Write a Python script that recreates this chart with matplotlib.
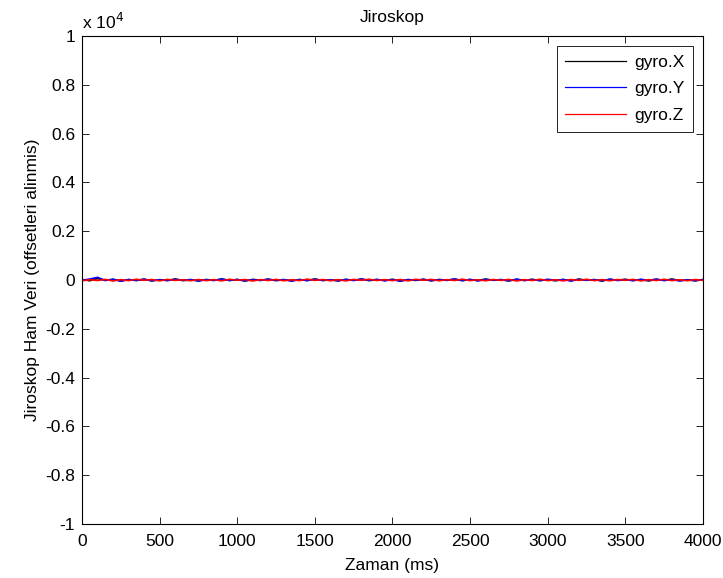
import matplotlib.pyplot as plt
import matplotlib.ticker as ticker
import numpy as np
from matplotlib import rcParams

rcParams.update({
    "font.family": ["Liberation Sans", "DejaVu Sans"],
    "font.size": 12.5,
})

# zaman ekseni (ms), her 50 ms'de bir okunan degerler
zaman = np.arange(0, 4001, 50)

gyro_x = [20, -30, 60, -10, 25, -40, 15, -20, 30, -35, 10, -15, 40, -25, 5,
          -30, 20, -10, 35, -20, 15, -40, 25, -5, 30, -25, 10, -35, 20, -15,
          40, -20, 5, -30, 25, -10, 35, -25, 15, -20, 30, -40, 10, -15, 25,
          -30, 20, -5, 35, -25, 15, -20, 40, -10, 5, -35, 25, -15, 30, -20,
          10, -30, 20, -25, 35, -10, 15, -40, 25, -5, 30, -20, 10, -35, 20,
          -15, 40, -25, 5, -30, 15]
gyro_y = [-10, 40, 110, -20, 30, -45, 20, -15, 35, -30, 15, -25, 30, -10, 20,
          -40, 10, -20, 45, -15, 25, -30, 10, -20, 35, -10, 20, -40, 15, -25,
          30, -15, 10, -35, 20, -20, 40, -10, 25, -30, 15, -45, 20, -10, 30,
          -25, 10, -15, 40, -20, 25, -35, 15, -10, 20, -30, 35, -20, 10, -25,
          30, -15, 20, -40, 25, -10, 15, -30, 35, -20, 10, -25, 30, -15, 40,
          -20, 15, -35, 10, -25, 20]
gyro_z = [-30, 10, -20, 25, -40, 15, -25, 30, -10, 20, -35, 25, -15, 10, -30,
          20, -25, 15, -35, 30, -10, 20, -40, 15, -20, 25, -30, 10, -25, 35,
          -15, 20, -30, 15, -35, 25, -10, 30, -20, 15, -25, 20, -35, 30, -10,
          25, -30, 15, -20, 35, -25, 10, -30, 20, -15, 25, -40, 15, -20, 30,
          -25, 10, -35, 20, -15, 30, -25, 15, -30, 20, -10, 25, -35, 15, -20,
          30, -25, 10, -30, 20, -15]

fig, ax = plt.subplots(figsize=[7.23, 5.78], dpi=100)
plt.subplots_adjust(left=0.1134, right=0.9723, top=0.9377, bottom=0.0934)

ax.plot(zaman, np.array(gyro_x) / 1e4, color='black', lw=1.2, label='gyro.X')
ax.plot(zaman, np.array(gyro_y) / 1e4, color='#0000ff', lw=1.2, label='gyro.Y')
ax.plot(zaman, np.array(gyro_z) / 1e4, color='#ff0000', lw=1.2, label='gyro.Z')

ax.set_xlim(0, 4000)
ax.set_ylim(-1, 1)
ax.xaxis.set_major_locator(ticker.MultipleLocator(500))
ax.yaxis.set_major_locator(ticker.MultipleLocator(0.2))
ax.yaxis.set_major_formatter(ticker.FuncFormatter(lambda v, p: ('%g' % round(v, 1))))
ax.tick_params(direction='in', top=True, right=True, length=5, width=0.6, pad=5)
ax.tick_params(axis='x', pad=7)
for s in ax.spines.values():
    s.set_linewidth(0.8)

ax.text(0.0, 1.008, r'x 10$^{4}$', transform=ax.transAxes, ha='left', va='bottom')
ax.set_title('Jiroskop', fontsize=12.5, pad=10)
ax.set_xlabel('Zaman (ms)', labelpad=7)
ax.set_ylabel('Jiroskop Ham Veri (offsetleri alinmis)', labelpad=4)

leg = ax.legend(loc='upper right', fancybox=False, framealpha=1, edgecolor='black',
                handlelength=3.5, handletextpad=0.45, borderaxespad=0.57,
                labelspacing=0.66, borderpad=0.5)
leg.get_frame().set_linewidth(0.6)
for ln in leg.get_lines():
    ln.set_linewidth(0.9)

plt.savefig('out.png', dpi=100)
